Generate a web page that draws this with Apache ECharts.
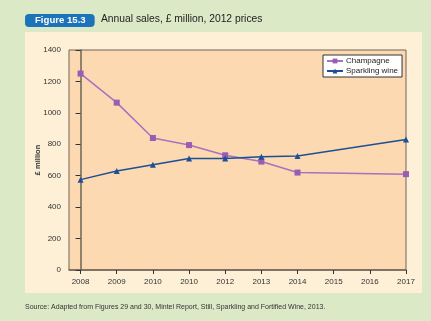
<!DOCTYPE html>
<html>
<head>
<meta charset="utf-8">
<script src="https://cdn.jsdelivr.net/npm/echarts@6/dist/echarts.min.js"></script>
<style>
  html, body { margin: 0; padding: 0; background: #dce9c6; }
  #chart { width: 431px; height: 321px; }
</style>
</head>
<body>
<div id="chart"></div>
<script>
// Annual sales, £ million at 2012 prices
const years = ['2008', '2009', '2010', '2010', '2012', '2013', '2014', '2015', '2016', '2017'];
const champagne = [1250, 1065, 840, 795, 730, 690, 620, null, null, 610];
const sparklingWine = [575, 630, 670, 710, 710, 720, 725, null, null, 830];
const yTicks = [0, 200, 400, 600, 800, 1000, 1200, 1400];

const FONT = '"Liberation Sans", Arial, sans-serif';
const toPoints = arr => arr.map((v, i) => [i, v]);
const tickPositions = years.map((_, i) => i);

const chart = echarts.init(document.getElementById('chart'), null, { renderer: 'canvas' });

chart.setOption({
  backgroundColor: '#dce9c6',
  animation: false,
  textStyle: { fontFamily: FONT },
  graphic: [{
    type: 'rect',
    z: -10,
    shape: { x: 25, y: 32, width: 397, height: 261 },
    style: { fill: '#fdf0d7' },
    silent: true
  }],
  title: [{
    text: 'Figure 15.3',
    left: 25,
    top: 14,
    backgroundColor: '#1b73b9',
    borderRadius: 4,
    padding: [1, 9, 1, 10],
    textStyle: { color: '#ffffff', fontSize: 9.6, fontWeight: 'bold', fontFamily: FONT, lineHeight: 11 }
  }, {
    text: 'Annual sales, £ million, 2012 prices',
    left: 101,
    top: 14,
    padding: 0,
    textStyle: { color: '#222222', fontSize: 10.3, fontWeight: 'normal', fontFamily: FONT }
  }, {
    text: 'Source: Adapted from Figures 29 and 30, Mintel Report, Still, Sparkling and Fortified Wine, 2013.',
    left: 25,
    top: 304,
    padding: 0,
    textStyle: { color: '#333333', fontSize: 7, fontWeight: 'normal', fontFamily: FONT }
  }],
  legend: {
    orient: 'vertical',
    left: 323,
    top: 55,
    padding: [2, 4, 2, 3],
    itemGap: 2,
    itemWidth: 16,
    itemHeight: 6,
    backgroundColor: '#ffffff',
    borderColor: '#333333',
    borderWidth: 1,
    borderRadius: 0,
    textStyle: { fontSize: 8, color: '#222222', fontFamily: FONT, padding: [0, 0, 0, -2] },
    data: ['Champagne', 'Sparkling wine']
  },
  grid: {
    left: 69,
    right: 25,
    top: 50,
    bottom: 51,
    show: true,
    backgroundColor: '#fcd9b1',
    borderColor: '#6e6457',
    borderWidth: 1,
    containLabel: false
  },
  xAxis: {
    type: 'value',
    min: -0.32,
    max: 9,
    splitLine: { show: false },
    axisLine: { show: true, lineStyle: { color: '#6e6457', width: 1.5 } },
    axisTick: {
      show: true,
      customValues: tickPositions,
      length: 4,
      lineStyle: { color: '#333333' }
    },
    axisLabel: {
      customValues: tickPositions,
      formatter: v => years[Math.round(v)],
      fontSize: 8,
      color: '#333333',
      margin: 8,
      fontFamily: FONT
    }
  },
  yAxis: {
    type: 'value',
    min: 0,
    max: 1400,
    interval: 200,
    name: '£ million',
    nameLocation: 'middle',
    nameGap: 27,
    nameMoveOverlap: false,
    nameRotate: 90,
    nameTextStyle: { fontSize: 7.5, fontWeight: 'bold', color: '#333333', fontFamily: FONT },
    splitLine: { show: false },
    axisLine: { show: true, lineStyle: { color: '#6e6457', width: 1.5 } },
    axisTick: { show: true, length: 5, lineStyle: { color: '#333333' } },
    axisLabel: {
      customValues: yTicks,
      formatter: v => String(v),
      fontSize: 8,
      color: '#333333',
      margin: 8,
      fontFamily: FONT
    }
  },
  series: [{
    name: 'Champagne',
    type: 'line',
    data: toPoints(champagne),
    connectNulls: true,
    symbol: 'rect',
    symbolSize: 6,
    itemStyle: { color: '#9a5db3' },
    lineStyle: { color: '#a872c0', width: 1.5 },
    z: 3
  }, {
    name: 'Sparkling wine',
    type: 'line',
    data: toPoints(sparklingWine),
    connectNulls: true,
    symbol: 'triangle',
    symbolSize: 6,
    itemStyle: { color: '#1d4f96' },
    lineStyle: { color: '#1d4f96', width: 1.5 },
    z: 4
  }]
});
</script>
</body>
</html>
